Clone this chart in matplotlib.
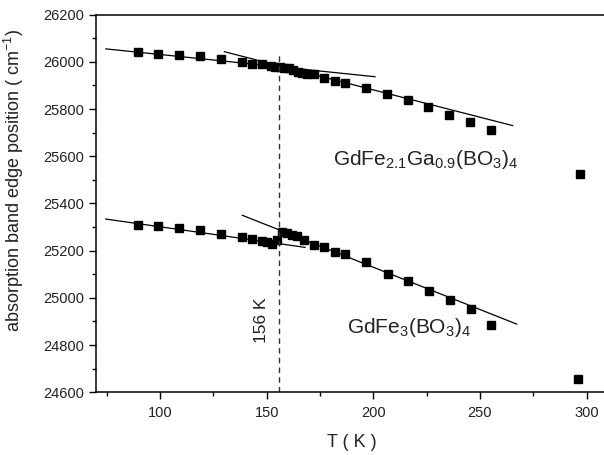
import matplotlib
matplotlib.use("Agg")
import matplotlib.pyplot as plt
from matplotlib.ticker import MultipleLocator

plt.rcParams["font.family"] = ["Liberation Sans", "DejaVu Sans"]
plt.rcParams["mathtext.default"] = "regular"

# GdFe2.1Ga0.9(BO3)4
t_ga = [89.5, 99.2, 108.9, 118.9, 128.6, 138.3, 143, 148, 151.9, 153.9, 156.3,
        158.1, 160.3, 162.5, 164.8, 166.7, 168.8, 172.2, 177, 181.9, 186.7,
        196.7, 206.4, 216.1, 225.8, 235.7, 245.3, 255.2, 296.9]
e_ga = [26041, 26034, 26027, 26023, 26010, 25999, 25993, 25989, 25981, 25979, 25979,
        25976, 25972, 25967, 25958, 25953, 25950, 25947, 25933, 25920, 25911,
        25888, 25863, 25837, 25808, 25776, 25745, 25711, 25524]

# GdFe3(BO3)4
t_fe = [89.5, 99.2, 108.9, 118.9, 128.6, 138.3, 143, 148, 150.2, 152.7, 154.7,
        157, 159.5, 162, 164.4, 167.6, 172.2, 177, 182, 186.9, 196.8, 206.7,
        216.1, 226, 235.8, 245.6, 255.2, 296]
e_fe = [25309, 25305, 25296, 25286, 25271, 25257, 25250, 25240, 25237, 25230, 25244,
        25278, 25275, 25267, 25262, 25247, 25226, 25214, 25196, 25187, 25151, 25101,
        25070, 25029, 24990, 24952, 24885, 24655]

# linear fits below / above the transition (end points)
fit_ga_low_t, fit_ga_low_e = [74.6, 200.8], [26055, 25937]
fit_ga_high_t, fit_ga_high_e = [130.2, 265.3], [26043, 25730]
fit_fe_low_t, fit_fe_low_e = [74.6, 168], [25334, 25214]
fit_fe_high_t, fit_fe_high_e = [138.6, 267.2], [25350, 24889]

t_transition = 156

fig = plt.figure(figsize=(6.04, 4.55), dpi=100)
ax = fig.add_axes([0.1589, 0.1378, 0.8477, 0.830])

ax.plot(fit_ga_low_t, fit_ga_low_e, color="black", lw=0.9)
ax.plot(fit_ga_high_t, fit_ga_high_e, color="black", lw=0.9)
ax.plot(fit_fe_low_t, fit_fe_low_e, color="black", lw=0.9)
ax.plot(fit_fe_high_t, fit_fe_high_e, color="black", lw=0.9)

ax.plot(t_ga, e_ga, "s", color="black", ms=5.5, ls="none")
ax.plot(t_fe, e_fe, "s", color="black", ms=5.5, ls="none")

ax.plot([t_transition, t_transition], [24600, 26043], color="#333333", lw=1.0,
        ls=(0, (4, 3)))
ax.text(147.8, 24906, "156 K", rotation=90, ha="center", va="center",
        fontsize=12.5, color="#222222")

ax.text(181, 25563, r"GdFe$_{2.1}$Ga$_{0.9}$(BO$_3$)$_4$", fontsize=15,
        va="baseline", ha="left", color="#222222")
ax.text(187.5, 24853, r"GdFe$_3$(BO$_3$)$_4$", fontsize=15,
        va="baseline", ha="left", color="#222222")

ax.set_xlim(70, 310)
ax.set_ylim(24600, 26200)
ax.xaxis.set_major_locator(MultipleLocator(50))
ax.xaxis.set_minor_locator(MultipleLocator(25))
ax.yaxis.set_major_locator(MultipleLocator(200))
ax.yaxis.set_minor_locator(MultipleLocator(100))
ax.tick_params(which="major", direction="out", length=5, width=1,
               labelsize=10.5, labelcolor="#222222")
ax.tick_params(axis="x", which="major", pad=5)
ax.tick_params(which="minor", direction="out", length=3, width=1)
for s in ax.spines.values():
    s.set_linewidth(1.1)

ax.set_xlabel("T ( K )", fontsize=13, color="#222222", labelpad=10)
ax.set_ylabel(r"absorption band edge position ( cm$^{-1}$)", fontsize=13,
              color="#222222")
ax.yaxis.set_label_coords(-0.136, 0.56)

fig.savefig("out.png", dpi=100)
